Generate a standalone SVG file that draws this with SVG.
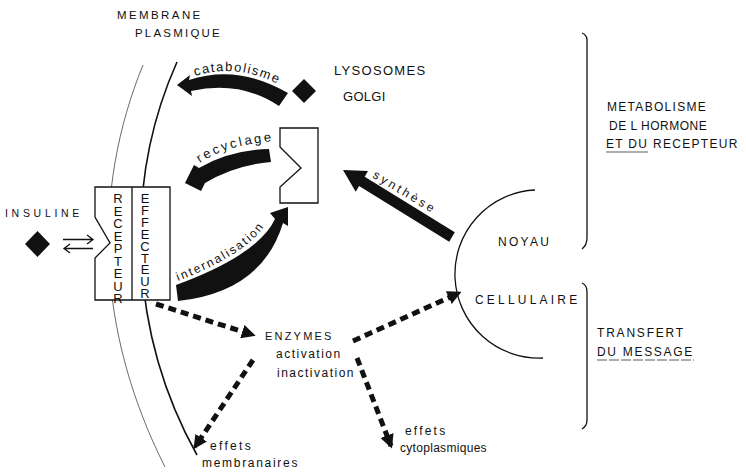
<svg xmlns="http://www.w3.org/2000/svg" width="746" height="474" viewBox="0 0 746 474">
<style>
text{font-family:"Liberation Sans",Arial,sans-serif;fill:#111}
.l12{font-size:12px}
.thin{fill:none;stroke:#111;stroke-width:1.3}
.dash{fill:none;stroke:#111;stroke-width:5;stroke-dasharray:8 5;marker-end:url(#ah)}
.solid{fill:#111;stroke:none}
.vt{font-size:13px;writing-mode:vertical-rl;text-orientation:upright}
.ul{stroke:#333;stroke-width:0.8}
</style>
<defs>
<marker id="ah" viewBox="0 0 10 10" refX="8" refY="5" markerWidth="14" markerHeight="14" markerUnits="userSpaceOnUse" orient="auto"><path d="M0,0 L10,5 L0,10 z" fill="#111"/></marker>
<path id="tp-cat" d="M195,76 Q240,62 285,88"/>
<path id="tp-rec" d="M200,163 Q225,145 276,141"/>
<path id="tp-int" d="M178,281 Q252,252 268,220"/>
</defs>
<rect width="746" height="474" fill="#fff"/>

<g id="membrane">
<path d="M143,65 C92,190 96,330 165,467" fill="none" stroke="#444" stroke-width="0.8"/>
<path d="M177,62 C122,185 130,335 197,455" fill="none" stroke="#111" stroke-width="1.6"/>
<text x="117" y="18.5" style="font-size:11.5px;letter-spacing:2.4px">MEMBRANE</text>
<text x="135" y="37" style="font-size:11.5px;letter-spacing:2.2px">PLASMIQUE</text>
</g>

<g id="recepteur">
<rect x="95" y="187" width="75" height="113" fill="#fff"/>
<path d="M95,187 H170 V300 H95 V258 L110,243 L95,217 Z" fill="none" stroke="#111" stroke-width="1.3"/>
<line x1="132" y1="187" x2="132" y2="300" stroke="#111" stroke-width="1.3"/>
<text class="vt" x="118" y="191" style="letter-spacing:-2.5px">RECEPTEUR</text>
<text class="vt" x="145" y="191" style="letter-spacing:-3.1px">EFFECTEUR</text>
</g>

<g id="insuline">
<text x="5" y="217" style="font-size:10.5px;letter-spacing:3.7px">INSULINE</text>
<path class="solid" d="M37.5,231 L50,244 L37.5,257 L25,244 Z"/>
</g>

<g id="lysosomes">
<path class="solid" d="M304,79 L316,91 L304,103 L292,91 Z"/>
<text x="334" y="75" style="font-size:13px;letter-spacing:1.3px">LYSOSOMES</text>
<text x="343" y="101" style="font-size:13px;letter-spacing:0.3px">GOLGI</text>
</g>

<g id="recepteur-interne">
<path d="M280,128 H318 V203 H280 V187 L301,168 L280,147 Z" fill="#fff" stroke="#111" stroke-width="1.3"/>
</g>

<g id="noyau">
<path class="thin" d="M535,190 A84,84 0 0 0 543,358"/>
<text x="498" y="246" style="font-size:12px;letter-spacing:2.3px">NOYAU</text>
<text x="475" y="304" style="font-size:12px;letter-spacing:3.2px">CELLULAIRE</text>
</g>

<g id="metabolisme">
<path class="thin" d="M582,33 Q588,35 587,44 L587,238 Q587,245 582,249"/>
<text x="607" y="111" style="font-size:12px;letter-spacing:1.3px">METABOLISME</text>
<text x="609" y="130" style="font-size:12px;letter-spacing:0.5px">DE L HORMONE</text>
<text x="606" y="148" style="font-size:12px;letter-spacing:1.3px">ET DU RECEPTEUR</text>
<line class="ul" x1="606" y1="152" x2="648" y2="152"/>
</g>

<g id="transfert">
<path class="thin" d="M582,283 Q587,285 587,292 L587,420 Q587,426 582,429"/>
<text x="597" y="337" style="font-size:12px;letter-spacing:1.8px">TRANSFERT</text>
<text x="597" y="356" style="font-size:12px;letter-spacing:1.7px">DU MESSAGE</text>
<line class="ul" x1="597" y1="360" x2="694" y2="360" stroke-dasharray="10 2"/>
</g>

<g id="enzymes">
<text x="265" y="340" style="font-size:11px;letter-spacing:2.2px">ENZYMES</text>
<text x="276" y="358" class="l12" style="letter-spacing:1.5px">activation</text>
<text x="277" y="377" class="l12" style="letter-spacing:1.5px">inactivation</text>
</g>

<g id="effets-membranaires">
<text x="210" y="450" class="l12" style="letter-spacing:2.3px">effets</text>
<text x="202" y="467" class="l12" style="letter-spacing:1.7px">membranaires</text>
</g>

<g id="effets-cytoplasmiques">
<text x="405" y="435" class="l12" style="letter-spacing:2.2px">effets</text>
<text x="400" y="452" class="l12" style="letter-spacing:0.3px">cytoplasmiques</text>
</g>

<g id="connectors">
<path class="thin" d="M63,239.5 H93 M87,235 L93,239.5 L87,244"/>
<path class="thin" d="M93,248.5 H64 M70,244 L64,248.5 L70,253"/>
<path class="solid" d="M177,85 L190,75 L189,80 Q238,64 288,93 L279,106 Q240,80 191,91 L192,96 Z"/>
<text style="font-size:13px;letter-spacing:1.5px"><textPath href="#tp-cat">catabolisme</textPath></text>
<path class="solid" d="M185,183 L194,165 L199,168 Q230,150 269,149 L271,162 Q235,165 205,183 L201,191 Z"/>
<text style="font-size:13px;letter-spacing:2.5px"><textPath href="#tp-rec">recyclage</textPath></text>
<path class="solid" d="M288,207 L270,213 L275,219 Q258,255 176,285 L178,301 Q262,292 283,223 L288,226 Z"/>
<text class="l12" style="letter-spacing:2px"><textPath href="#tp-int">internalisation</textPath></text>
<path class="solid" d="M343,170 L368,171 L364.7,176.7 L454.8,232.3 L449.2,241.7 L359.1,186.1 L355.7,191.7 Z"/>
<text x="372" y="177" class="l12" style="letter-spacing:3px" transform="rotate(31 372 177)">synthèse</text>
<path class="dash" d="M156,304 L253,335"/>
<path class="dash" d="M353,341 L459,293"/>
<path class="dash" d="M253,360 L195,447"/>
<path class="dash" d="M357,358 L391,446"/>
</g>
</svg>
